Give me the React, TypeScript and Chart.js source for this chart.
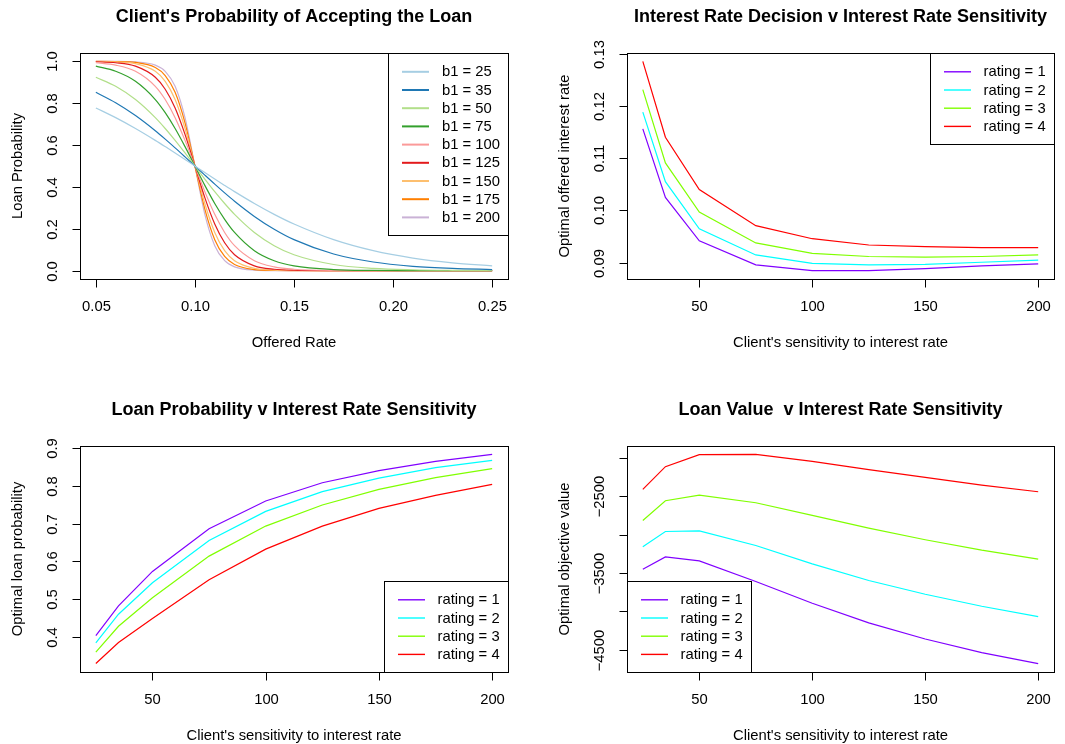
import React, { useEffect, useRef } from "react";
import { Chart, registerables } from "chart.js";

Chart.register(...registerables);

// ---------- Panel 1 data: client's probability of accepting the loan ----------
const offeredRate = [0.05, 0.06, 0.07, 0.08, 0.085, 0.09, 0.095, 0.1, 0.105, 0.11, 0.115, 0.12, 0.13, 0.14, 0.15, 0.17, 0.19, 0.21, 0.23, 0.25];
const b1Labels = ["b1 = 25", "b1 = 35", "b1 = 50", "b1 = 75", "b1 = 100", "b1 = 125", "b1 = 150", "b1 = 175", "b1 = 200"];
const probB25 = [0.7773, 0.7311, 0.6792, 0.6225, 0.5927, 0.5622, 0.5312, 0.5, 0.4688, 0.4378, 0.4073, 0.3775, 0.3208, 0.2689, 0.2227, 0.148, 0.0953, 0.0601, 0.0373, 0.023];
const probB35 = [0.852, 0.8022, 0.7408, 0.6682, 0.6283, 0.5866, 0.5436, 0.5, 0.4564, 0.4134, 0.3717, 0.3318, 0.2592, 0.1978, 0.148, 0.0794, 0.0411, 0.0208, 0.0105, 0.0052];
const probB50 = [0.9241, 0.8808, 0.8176, 0.7311, 0.6792, 0.6225, 0.5622, 0.5, 0.4378, 0.3775, 0.3208, 0.2689, 0.1824, 0.1192, 0.0759, 0.0293, 0.011, 0.0041, 0.0015, 0.0006];
const probB75 = [0.977, 0.9526, 0.9047, 0.8176, 0.7549, 0.6792, 0.5927, 0.5, 0.4073, 0.3208, 0.2451, 0.1824, 0.0953, 0.0474, 0.023, 0.0052, 0.0012, 0.0003, 0.0001, 0.0];
const probB100 = [0.9933, 0.982, 0.9526, 0.8808, 0.8176, 0.7311, 0.6225, 0.5, 0.3775, 0.2689, 0.1824, 0.1192, 0.0474, 0.018, 0.0067, 0.0009, 0.0001, 0.0, 0.0, 0.0];
const probB125 = [0.9981, 0.9933, 0.977, 0.9241, 0.867, 0.7773, 0.6513, 0.5, 0.3487, 0.2227, 0.133, 0.0759, 0.023, 0.0067, 0.0019, 0.0002, 0.0, 0.0, 0.0, 0.0];
const probB150 = [0.9994, 0.9975, 0.989, 0.9526, 0.9047, 0.8176, 0.6792, 0.5, 0.3208, 0.1824, 0.0953, 0.0474, 0.011, 0.0025, 0.0006, 0.0, 0.0, 0.0, 0.0, 0.0];
const probB175 = [0.9998, 0.9991, 0.9948, 0.9707, 0.9324, 0.852, 0.7058, 0.5, 0.2942, 0.148, 0.0676, 0.0293, 0.0052, 0.0009, 0.0002, 0.0, 0.0, 0.0, 0.0, 0.0];
const probB200 = [1.0, 0.9997, 0.9975, 0.982, 0.9526, 0.8808, 0.7311, 0.5, 0.2689, 0.1192, 0.0474, 0.018, 0.0025, 0.0003, 0.0001, 0.0, 0.0, 0.0, 0.0, 0.0];
const pairedColors = ["#A6CEE3", "#1F78B4", "#B2DF8A", "#33A02C", "#FB9A99", "#E31A1C", "#FDBF6F", "#FF7F00", "#CAB2D6"];
const rateTicks = [0.05, 0.1, 0.15, 0.2, 0.25];
const rateTickLabels = ["0.05", "0.10", "0.15", "0.20", "0.25"];
const probTicks = [0, 0.2, 0.4, 0.6, 0.8, 1.0];
const probTickLabels = ["0.0", "0.2", "0.4", "0.6", "0.8", "1.0"];

// ---------- Shared: sensitivity and ratings ----------
const sensitivity = [25, 35, 50, 75, 100, 125, 150, 175, 200];
const ratingLabels = ["rating = 1", "rating = 2", "rating = 3", "rating = 4"];
const ratingColors = ["#8000FF", "#00FFFF", "#80FF00", "#FF0000"];
const sensTicks = [50, 100, 150, 200];
const sensTickLabels = ["50", "100", "150", "200"];

// ---------- Panel 2: optimal interest rate ----------
const rateR1 = [0.1156, 0.1025, 0.0942, 0.0896, 0.0885, 0.0885, 0.0889, 0.0894, 0.0898];
const rateR2 = [0.1188, 0.1055, 0.0965, 0.0915, 0.0899, 0.0896, 0.0897, 0.0901, 0.0905];
const rateR3 = [0.1231, 0.1091, 0.0997, 0.0938, 0.0918, 0.0912, 0.0911, 0.0912, 0.0915];
const rateR4 = [0.1285, 0.114, 0.104, 0.0971, 0.0946, 0.0934, 0.0931, 0.0929, 0.0929];
const optRateTicks = [0.09, 0.1, 0.11, 0.12, 0.13];
const optRateTickLabels = ["0.09", "0.10", "0.11", "0.12", "0.13"];

// ---------- Panel 3: optimal loan probability ----------
const probR1 = [0.4035, 0.482, 0.5735, 0.6867, 0.7602, 0.8088, 0.8407, 0.8655, 0.8841];
const probR2 = [0.384, 0.46, 0.5434, 0.6558, 0.7327, 0.785, 0.8212, 0.8487, 0.8681];
const probR3 = [0.3593, 0.428, 0.5035, 0.6142, 0.6938, 0.7496, 0.7912, 0.8221, 0.846];
const probR4 = [0.3292, 0.385, 0.4487, 0.5513, 0.6327, 0.6938, 0.7407, 0.7752, 0.8044];
const optProbTicks = [0.4, 0.5, 0.6, 0.7, 0.8, 0.9];
const optProbTickLabels = ["0.4", "0.5", "0.6", "0.7", "0.8", "0.9"];

// ---------- Panel 4: optimal objective value ----------
const valueR1 = [-3450, -3289, -3341, -3611, -3894, -4151, -4361, -4539, -4683];
const valueR2 = [-3158, -2958, -2949, -3141, -3380, -3598, -3777, -3934, -4069];
const valueR3 = [-2814, -2557, -2483, -2583, -2748, -2914, -3066, -3202, -3319];
const valueR4 = [-2408, -2112, -1955, -1951, -2042, -2151, -2252, -2352, -2439];
const valueTicks = [-2000, -2500, -3000, -3500, -4000, -4500];
const valueTickLabels = ["", "\u22122500", "", "\u22123500", "", "\u22124500"];

const FONT = '"Liberation Sans", Arial, Helvetica, sans-serif';
const LABEL_FONT = `14.8px ${FONT}`;
const TITLE_FONT = `bold 18px ${FONT}`;

type Series = { x: number[]; y: number[]; color: string; label: string };
type Spec = {
  left: number; top: number; width: number; height: number;
  pad: { left: number; top: number; right: number; bottom: number };
  xMin: number; xMax: number; yMin: number; yMax: number;
  series: Series[];
  smooth: boolean;
  xTicks: number[]; xTickLabels: string[];
  yTicks: number[]; yTickLabels: string[];
  title: string; xLabel: string; yLabel: string;
  legendPos: "topright" | "bottomright" | "bottomleft";
  legendLineWidth: number;
  legendTextX: number;
};

const rPlotPlugin = {
  id: "rPlot",
  afterDraw(chart: any, _args: any, opts: any) {
    const spec: Spec = opts.spec;
    const { ctx, chartArea: a, scales } = chart;
    const xs = scales.x, ys = scales.y;
    const L = Math.round(a.left), R = Math.round(a.right), T = Math.round(a.top), B = Math.round(a.bottom);
    ctx.save();
    ctx.strokeStyle = "#000";
    ctx.fillStyle = "#000";
    ctx.lineWidth = 1;
    // box
    ctx.strokeRect(L + 0.5, T + 0.5, R - L, B - T);
    // x axis
    const xp = spec.xTicks.map((v) => Math.round(xs.getPixelForValue(v)) + 0.5);
    ctx.beginPath();
    ctx.moveTo(xp[0], B + 0.5);
    ctx.lineTo(xp[xp.length - 1], B + 0.5);
    xp.forEach((p) => { ctx.moveTo(p, B + 0.5); ctx.lineTo(p, B + 8.5); });
    ctx.stroke();
    ctx.font = LABEL_FONT;
    ctx.textAlign = "center";
    ctx.textBaseline = "middle";
    spec.xTickLabels.forEach((lab, i) => ctx.fillText(lab, xp[i], B + 28));
    // y axis
    const yp = spec.yTicks.map((v) => Math.round(ys.getPixelForValue(v)) + 0.5);
    const yTop = Math.min(...yp), yBot = Math.max(...yp);
    ctx.beginPath();
    ctx.moveTo(L + 0.5, yTop);
    ctx.lineTo(L + 0.5, yBot);
    yp.forEach((p) => { ctx.moveTo(L + 0.5, p); ctx.lineTo(L - 7.5, p); });
    ctx.stroke();
    spec.yTickLabels.forEach((lab, i) => {
      if (!lab) return;
      ctx.save();
      ctx.translate(L - 27, yp[i]);
      ctx.rotate(-Math.PI / 2);
      ctx.fillText(lab, 0, 0);
      ctx.restore();
    });
    // axis titles
    ctx.fillText(spec.xLabel, (L + R) / 2, B + 64);
    ctx.save();
    ctx.translate(L - 62, (T + B) / 2);
    ctx.rotate(-Math.PI / 2);
    ctx.fillText(spec.yLabel, 0, 0);
    ctx.restore();
    // main title
    ctx.font = TITLE_FONT;
    ctx.fillText(spec.title, (L + R) / 2, T - 36);
    // legend
    ctx.font = LABEL_FONT;
    const rowH = 18.2;
    const n = spec.series.length;
    const maxW = Math.max(...spec.series.map((s) => ctx.measureText(s.label).width));
    const bw = Math.round(spec.legendTextX + maxW + 8);
    const bh = Math.round((n + 1) * rowH);
    let bx = R - bw, by = T;
    if (spec.legendPos === "bottomright") { bx = R - bw; by = B - bh; }
    if (spec.legendPos === "bottomleft") { bx = L; by = B - bh; }
    ctx.strokeRect(bx + 0.5, by + 0.5, bw, bh);
    ctx.textAlign = "left";
    spec.series.forEach((s, i) => {
      const ry = by + 18.8 + i * rowH;
      ctx.strokeStyle = s.color;
      ctx.lineWidth = spec.legendLineWidth;
      ctx.beginPath();
      ctx.moveTo(bx + 14, ry);
      ctx.lineTo(bx + 41, ry);
      ctx.stroke();
      ctx.fillText(s.label, bx + spec.legendTextX, ry + 0.5);
    });
    ctx.restore();
  },
};

function Panel({ spec }: { spec: Spec }) {
  const ref = useRef<HTMLCanvasElement>(null);
  useEffect(() => {
    const chart = new Chart(ref.current as HTMLCanvasElement, {
      type: "line",
      data: {
        datasets: spec.series.map((s) => ({
          label: s.label,
          data: s.x.map((x, i) => ({ x, y: s.y[i] })),
          borderColor: s.color,
          backgroundColor: s.color,
          borderWidth: 1.2,
          pointRadius: 0,
          fill: false,
          tension: 0,
          cubicInterpolationMode: spec.smooth ? "monotone" : "default",
        })),
      },
      options: {
        responsive: false,
        animation: false,
        events: [],
        layout: { padding: spec.pad },
        scales: {
          x: { type: "linear", min: spec.xMin, max: spec.xMax, display: false },
          y: { type: "linear", min: spec.yMin, max: spec.yMax, display: false },
        },
        plugins: {
          legend: { display: false },
          tooltip: { enabled: false },
          rPlot: { spec },
        } as any,
      },
      plugins: [rPlotPlugin],
    } as any);
    return () => chart.destroy();
  }, []);
  return (
    <canvas
      ref={ref}
      width={spec.width}
      height={spec.height}
      style={{ position: "absolute", left: spec.left, top: spec.top, width: spec.width, height: spec.height }}
    />
  );
}

const ratingSeries = (ys: number[][]): Series[] =>
  ys.map((y, i) => ({ x: sensitivity, y, color: ratingColors[i], label: ratingLabels[i] }));

const specs: Spec[] = [
  {
    left: 0, top: 0, width: 532, height: 372,
    pad: { left: 80, top: 53, right: 24, bottom: 93 },
    xMin: 0.042, xMax: 0.258, yMin: -0.04, yMax: 1.04,
    series: [probB25, probB35, probB50, probB75, probB100, probB125, probB150, probB175, probB200].map((y, i) => ({
      x: offeredRate, y, color: pairedColors[i], label: b1Labels[i],
    })),
    smooth: true,
    xTicks: rateTicks, xTickLabels: rateTickLabels,
    yTicks: probTicks, yTickLabels: probTickLabels,
    title: "Client's Probability of Accepting the Loan",
    xLabel: "Offered Rate", yLabel: "Loan Probability",
    legendPos: "topright", legendLineWidth: 2, legendTextX: 54,
  },
  {
    left: 532, top: 0, width: 533, height: 372,
    pad: { left: 95, top: 53, right: 11, bottom: 93 },
    xMin: 18, xMax: 207, yMin: 0.0869, yMax: 0.1301,
    series: ratingSeries([rateR1, rateR2, rateR3, rateR4]),
    smooth: false,
    xTicks: sensTicks, xTickLabels: sensTickLabels,
    yTicks: optRateTicks, yTickLabels: optRateTickLabels,
    title: "Interest Rate Decision v Interest Rate Sensitivity",
    xLabel: "Client's sensitivity to interest rate", yLabel: "Optimal offered interest rate",
    legendPos: "topright", legendLineWidth: 1.4, legendTextX: 53.5,
  },
  {
    left: 0, top: 372, width: 532, height: 372,
    pad: { left: 80, top: 74, right: 24, bottom: 72 },
    xMin: 18, xMax: 207, yMin: 0.3068, yMax: 0.9062,
    series: ratingSeries([probR1, probR2, probR3, probR4]),
    smooth: false,
    xTicks: sensTicks, xTickLabels: sensTickLabels,
    yTicks: optProbTicks, yTickLabels: optProbTickLabels,
    title: "Loan Probability v Interest Rate Sensitivity",
    xLabel: "Client's sensitivity to interest rate", yLabel: "Optimal loan probability",
    legendPos: "bottomright", legendLineWidth: 1.4, legendTextX: 53.5,
  },
  {
    left: 532, top: 372, width: 533, height: 372,
    pad: { left: 95, top: 74, right: 11, bottom: 72 },
    xMin: 18, xMax: 207, yMin: -4792, yMax: -1842,
    series: ratingSeries([valueR1, valueR2, valueR3, valueR4]),
    smooth: false,
    xTicks: sensTicks, xTickLabels: sensTickLabels,
    yTicks: valueTicks, yTickLabels: valueTickLabels,
    title: "Loan Value  v Interest Rate Sensitivity",
    xLabel: "Client's sensitivity to interest rate", yLabel: "Optimal objective value",
    legendPos: "bottomleft", legendLineWidth: 1.4, legendTextX: 53.5,
  },
];

export default function App() {
  return (
    <div style={{ position: "absolute", left: 0, top: 0, width: 1065, height: 744, background: "#fff" }}>
      {specs.map((s, i) => (
        <Panel key={i} spec={s} />
      ))}
    </div>
  );
}
